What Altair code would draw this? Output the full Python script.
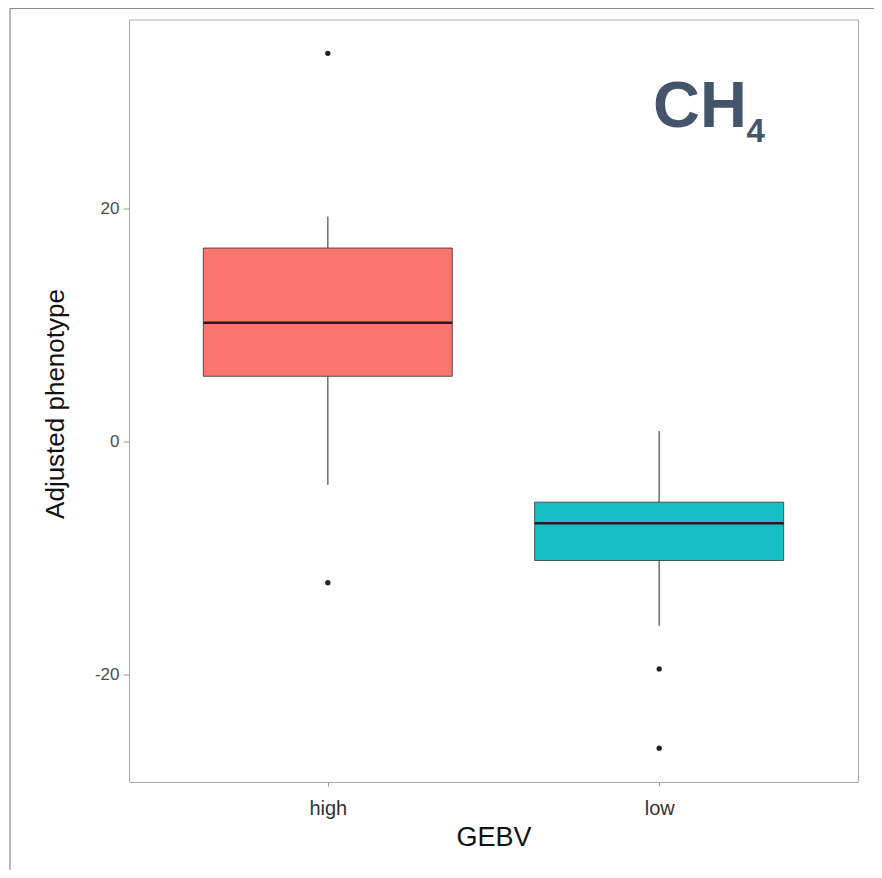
import altair as alt
import pandas as pd

# ---- data ----
groups = ["high", "low"]
q1 = [5.6, -10.2]
q3 = [16.6, -5.2]
medians = [10.2, -7.0]
whisker_low = [-3.7, -15.8]
whisker_high = [19.3, 0.9]
fills = ["#F8766D", "#17BFC4"]

outlier_groups = ["high", "high", "low", "low"]
outlier_values = [33.3, -12.1, -19.5, -26.3]

y_ticks = [-20, 0, 20]
y_domain = [-29.2, 36.2]

box_df = pd.DataFrame({
    "GEBV": groups, "q1": q1, "q3": q3, "median": medians,
    "lo": whisker_low, "hi": whisker_high, "fill": fills,
})
out_df = pd.DataFrame({"GEBV": outlier_groups, "value": outlier_values})

FONT = "Liberation Sans"
W, H = 729, 762.5

x_enc = alt.X(
    "GEBV:N",
    scale=alt.Scale(type="point", padding=0.6, domain=groups),
    axis=alt.Axis(
        title="GEBV", titleFontSize=27, titleFont=FONT, titleFontWeight="normal",
        titleColor="#111111", titleBaseline="alphabetic", titleY=63, titleX=W / 2,
        labelFontSize=20, labelFont=FONT, labelColor="#333333", labelAngle=0,
        labelBaseline="alphabetic", labelPadding=28, tickSize=4, tickColor="#999999",
        domain=False, grid=False,
    ),
)
y_scale = alt.Scale(domain=y_domain, nice=False, zero=False)
y_axis = alt.Axis(
    title="Adjusted phenotype", titleFontSize=26, titleFont=FONT, titleFontWeight="normal",
    titleColor="#111111", titleBaseline="alphabetic", titleX=-66, titleY=384,
    values=y_ticks, labelExpr="toString(datum.value)",
    labelFontSize=17, labelFont=FONT, labelColor="#4D4D4D",
    labelPadding=4, tickSize=6, tickColor="#999999", domain=False, grid=False,
)

base = alt.Chart(box_df)

whiskers = base.mark_rule(color="#6e6e6e", strokeWidth=1.5).encode(
    x=x_enc,
    y=alt.Y("lo:Q", scale=y_scale, axis=y_axis),
    y2="hi:Q",
)

boxes = base.mark_bar(size=249, stroke="#333333", strokeWidth=1, strokeOpacity=0.8).encode(
    x=x_enc,
    y=alt.Y("q1:Q", scale=y_scale),
    y2="q3:Q",
    color=alt.Color("fill:N", scale=None, legend=None),
)

median_ticks = base.mark_tick(size=249, thickness=2.5, color="#1f1f1f", opacity=1).encode(
    x=x_enc,
    y=alt.Y("median:Q", scale=y_scale),
)

points = alt.Chart(out_df).mark_circle(size=28, color="#222222", opacity=1).encode(
    x=x_enc,
    y=alt.Y("value:Q", scale=y_scale),
)

one = alt.Data(values=[{"k": 1}])
label_ch = alt.Chart(one).mark_text(
    font=FONT, fontWeight="bold", fontSize=65, color="#44546A",
    align="left", baseline="alphabetic",
).encode(x=alt.value(524), y=alt.value(107), text=alt.value("CH"))
label_4 = alt.Chart(one).mark_text(
    font=FONT, fontWeight="bold", fontSize=33, color="#44546A",
    align="left", baseline="alphabetic",
).encode(x=alt.value(617.5), y=alt.value(122.5), text=alt.value("4"))

frame_left = alt.Chart(one).mark_rule(color="#8a8a8a", strokeWidth=1.2).encode(
    x=alt.value(-119), y=alt.value(-11), y2=alt.value(851)
)
frame_top = alt.Chart(one).mark_rule(color="#8a8a8a", strokeWidth=1.2).encode(
    x=alt.value(-119), x2=alt.value(745), y=alt.value(-11)
)

chart = alt.layer(
    frame_left, frame_top, whiskers, boxes, median_ticks, points, label_ch, label_4
).properties(
    width=W, height=H,
    autosize=alt.AutoSizeParams(type="none"),
    padding={"left": 121, "top": 11.5, "right": 16, "bottom": 88},
    background="white",
).configure_view(
    stroke="#ABABAB", strokeWidth=1,
)

chart.save("out.html", embed_options={"renderer": "svg", "actions": False})
